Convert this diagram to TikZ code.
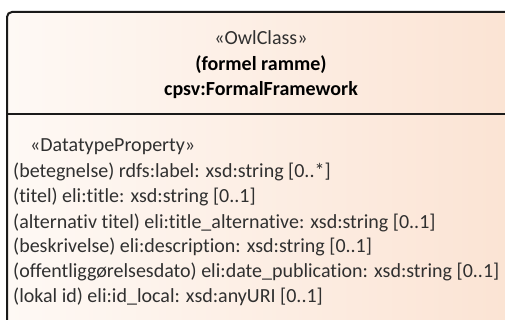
\documentclass[tikz,border=0pt]{standalone}
\usepackage{fontspec}
\setmainfont{Carlito}[Ligatures={NoCommon,NoRare}]
\definecolor{boxleft}{HTML}{FEF9F5}
\definecolor{boxright}{HTML}{FBE3D3}
\definecolor{txt}{HTML}{303030}
\definecolor{edge}{HTML}{1A1A1A}
\begin{document}
\begin{tikzpicture}[x=1pt,y=-1pt,
  attr/.style={anchor=base west, inner sep=0pt, font=\fontsize{20}{24}\selectfont, text=txt},
  headtxt/.style={anchor=base, inner sep=0pt, font=\fontsize{20}{24}\selectfont, text=txt},
  headbold/.style={anchor=base, inner sep=0pt, font=\fontsize{20}{24}\selectfont\bfseries, text=black},
  border/.style={draw=edge, line width=2pt}]
\useasboundingbox (0,0) rectangle (505,320);
\clip (0,0) rectangle (505,320);
\shade[left color=boxleft, right color=boxright] (7,12) rectangle (520,330);
\draw[border, rounded corners=5pt] (7,330) -- (7,12) -- (520,12);
\draw[border] (7,114) -- (520,114);
\node[headtxt] (st) at (261,45) {«OwlClass»};
\node[headbold] (nm) at (261,71) {(formel ramme)};
\node[headbold] (qn) at (261,96) {cpsv:FormalFramework};
\node[attr] (dp) at (30,152) {«DatatypeProperty»};
\node[attr] (a1) at (13,178) {(betegnelse) rdfs:label: xsd:string [0..*]};
\node[attr] (a2) at (13,203) {(titel) eli:title: xsd:string [0..1]};
\node[attr] (a3) at (13,228) {(alternativ titel) eli:title\_alternative: xsd:string [0..1]};
\node[attr] (a4) at (13,252) {(beskrivelse) eli:description: xsd:string [0..1]};
\node[attr] (a5) at (13,277) {(offentliggørelsesdato) eli:date\_publication: xsd:string [0..1]};
\node[attr] (a6) at (13,302) {(lokal id) eli:id\_local: xsd:anyURI [0..1]};
\end{tikzpicture}
\end{document}
